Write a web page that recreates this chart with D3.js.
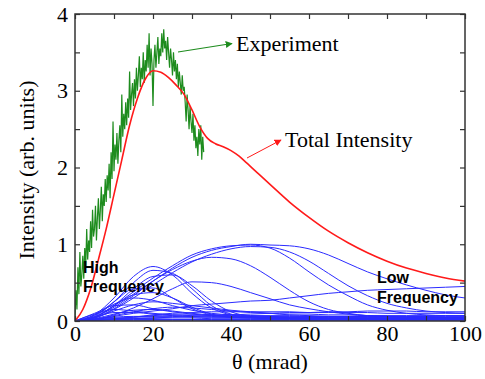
<!DOCTYPE html>
<html>
<head>
<meta charset="utf-8">
<script src="https://cdn.jsdelivr.net/npm/d3@7"></script>
<style>
  body { margin: 0; background: #fff; }
  svg text { font-family: "Liberation Serif", "DejaVu Serif", "Times New Roman", serif; }
  svg text.note { font-family: "Liberation Sans", Arial, sans-serif; font-weight: bold; font-size: 16px; }
</style>
</head>
<body>
<svg id="chart" width="485" height="379"></svg>
<script>
// theta grid (mrad) for the calculated curves
var theta = [0, 5, 10, 15, 20, 25, 30, 35, 40, 45, 50, 55, 60, 65, 70, 75, 80, 85, 90, 95, 100]

// total intensity (red), sampled on its own grid
var totalTheta = [0, 2, 4, 6, 8, 10, 12, 14, 16, 18, 20, 22, 24, 26, 28, 30, 32, 34, 36, 38, 40, 42, 44, 47, 50, 55, 60, 65, 70, 75, 80, 85, 90, 95, 100]
var totalIntensity = [0, 0.15, 0.42, 0.8, 1.2, 1.65, 2.1, 2.55, 2.9, 3.15, 3.26, 3.24, 3.17, 3.07, 2.95, 2.75, 2.53, 2.38, 2.31, 2.27, 2.22, 2.15, 2.06, 1.92, 1.78, 1.55, 1.35, 1.17, 1.02, 0.89, 0.78, 0.69, 0.62, 0.56, 0.52]

// experiment (green), one value every 0.25 mrad from 0 to 33
var experiment = [
  0.05, 0.4, 0.15, 0.7, 0.35, 0.9, 0.45, 0.6,
  0.85, 0.55, 0.95, 0.7, 1.2, 0.8, 1.05, 0.9,
  1.3, 0.95, 1.45, 1.1, 1.2, 1.5, 1.05, 1.35,
  1.6, 1.2, 1.45, 1.75, 1.3, 1.65, 1.5, 1.85,
  1.55, 1.9, 1.7, 2.05, 1.6, 2.2, 1.85, 2.6,
  1.95, 2.3, 2.1, 2.45, 2.05, 2.35, 2.55, 2.2,
  2.95, 2.4, 2.7, 2.5, 2.85, 2.55, 2.9, 2.65,
  3.25, 2.75, 2.95, 3.1, 2.8, 3.15, 2.9, 3.3,
  3.0, 3.2, 3.45, 3.05, 3.3, 3.15, 3.5, 3.1,
  3.4, 3.25, 3.6, 3.3, 3.75, 3.2, 3.55, 3.35,
  2.8, 3.4, 3.6, 3.3, 3.5, 3.7, 3.35, 3.55,
  3.45, 3.75, 3.5, 3.8, 3.55, 3.65, 3.4, 3.7,
  3.5, 3.3, 3.55, 3.4, 3.2, 3.5, 3.25, 3.4,
  3.15, 3.35, 3.05, 3.25, 3.1, 2.95, 3.2, 3.0,
  3.05, 2.85, 2.6, 2.95, 2.75, 2.5, 2.8, 2.6,
  2.45, 2.7, 2.35, 2.55, 2.25, 2.4, 2.15, 2.5,
  2.3, 2.55, 2.1, 2.4, 2.2
]
var expTheta = experiment.map(function(d, i) { return i * 0.25 })

// individual frequency components (blue), on the theta grid
var components = [
  [0, 0.05, 0.18, 0.35, 0.52, 0.69, 0.83, 0.92, 0.97, 1.0, 0.99, 0.98, 0.94, 0.86, 0.75, 0.64, 0.55, 0.47, 0.40, 0.34, 0.30],
  [0, 0.05, 0.2, 0.38, 0.56, 0.72, 0.86, 0.94, 0.98, 0.99, 0.95, 0.82, 0.64, 0.47, 0.33, 0.21, 0.14, 0.1, 0.08, 0.07, 0.07],
  [0, 0.04, 0.15, 0.3, 0.47, 0.63, 0.77, 0.87, 0.94, 0.97, 0.96, 0.9, 0.78, 0.62, 0.46, 0.33, 0.23, 0.17, 0.13, 0.11, 0.1],
  [0, 0.04, 0.16, 0.33, 0.52, 0.67, 0.78, 0.83, 0.81, 0.72, 0.57, 0.4, 0.25, 0.15, 0.1, 0.07, 0.06, 0.05, 0.05, 0.05, 0.05],
  [0, 0.02, 0.08, 0.17, 0.29, 0.42, 0.51, 0.5, 0.45, 0.37, 0.29, 0.21, 0.16, 0.12, 0.09, 0.07, 0.06, 0.05, 0.05, 0.04, 0.04],
  [0, 0.02, 0.06, 0.1, 0.13, 0.16, 0.2, 0.22, 0.24, 0.26, 0.27, 0.3, 0.33, 0.36, 0.38, 0.4, 0.41, 0.42, 0.43, 0.44, 0.45],
  [0, 0.01, 0.02, 0.03, 0.04, 0.05, 0.06, 0.07, 0.08, 0.09, 0.1, 0.11, 0.11, 0.12, 0.12, 0.13, 0.13, 0.13, 0.12, 0.12, 0.12],
  [0, 0.01, 0.03, 0.05, 0.08, 0.1, 0.11, 0.12, 0.12, 0.12, 0.12, 0.12, 0.11, 0.11, 0.11, 0.11, 0.1, 0.1, 0.1, 0.1, 0.1],
  [0, 0.08, 0.3, 0.58, 0.71, 0.6, 0.36, 0.17, 0.08, 0.05, 0.04, 0.04, 0.03, 0.03, 0.03, 0.03, 0.03, 0.03, 0.03, 0.03, 0.03],
  [0, 0.06, 0.25, 0.5, 0.66, 0.62, 0.42, 0.2, 0.09, 0.05, 0.04, 0.03, 0.03, 0.03, 0.03, 0.03, 0.02, 0.02, 0.02, 0.02, 0.02],
  [0, 0.05, 0.2, 0.42, 0.58, 0.6, 0.46, 0.26, 0.12, 0.06, 0.04, 0.03, 0.03, 0.02, 0.02, 0.02, 0.02, 0.02, 0.02, 0.02, 0.02],
  [0, 0.07, 0.25, 0.42, 0.43, 0.3, 0.16, 0.08, 0.05, 0.04, 0.03, 0.03, 0.03, 0.03, 0.03, 0.03, 0.03, 0.03, 0.03, 0.03, 0.03],
  [0, 0.05, 0.2, 0.34, 0.37, 0.3, 0.18, 0.09, 0.05, 0.04, 0.03, 0.03, 0.03, 0.03, 0.03, 0.02, 0.02, 0.02, 0.02, 0.02, 0.02],
  [0, 0.08, 0.22, 0.3, 0.27, 0.2, 0.14, 0.1, 0.08, 0.07, 0.06, 0.05, 0.05, 0.04, 0.04, 0.04, 0.04, 0.04, 0.04, 0.04, 0.04],
  [0, 0.04, 0.13, 0.21, 0.25, 0.23, 0.2, 0.17, 0.14, 0.12, 0.1, 0.08, 0.07, 0.06, 0.05, 0.05, 0.04, 0.04, 0.04, 0.04, 0.04],
  [0, 0.1, 0.2, 0.21, 0.16, 0.12, 0.09, 0.07, 0.06, 0.05, 0.05, 0.04, 0.04, 0.04, 0.04, 0.04, 0.03, 0.03, 0.03, 0.03, 0.03],
  [0, 0.02, 0.07, 0.12, 0.16, 0.18, 0.17, 0.15, 0.13, 0.11, 0.1, 0.09, 0.09, 0.08, 0.08, 0.07, 0.07, 0.07, 0.07, 0.07, 0.07],
  [0, 0.09, 0.15, 0.13, 0.1, 0.08, 0.07, 0.06, 0.05, 0.05, 0.04, 0.04, 0.04, 0.04, 0.03, 0.03, 0.03, 0.03, 0.03, 0.03, 0.03],
  [0, 0.03, 0.09, 0.14, 0.15, 0.13, 0.1, 0.08, 0.07, 0.06, 0.06, 0.06, 0.06, 0.06, 0.06, 0.06, 0.06, 0.06, 0.06, 0.06, 0.06],
  [0, 0.05, 0.11, 0.11, 0.09, 0.07, 0.06, 0.05, 0.05, 0.05, 0.04, 0.04, 0.04, 0.04, 0.04, 0.04, 0.04, 0.04, 0.04, 0.04, 0.04],
  [0, 0.02, 0.05, 0.06, 0.06, 0.06, 0.05, 0.05, 0.05, 0.05, 0.05, 0.05, 0.05, 0.05, 0.05, 0.05, 0.05, 0.04, 0.04, 0.04, 0.04],
  [0, 0.03, 0.04, 0.04, 0.04, 0.04, 0.04, 0.03, 0.03, 0.03, 0.03, 0.03, 0.03, 0.03, 0.03, 0.03, 0.03, 0.03, 0.03, 0.03, 0.03],
  [0, 0.01, 0.03, 0.05, 0.07, 0.08, 0.08, 0.08, 0.08, 0.07, 0.07, 0.07, 0.06, 0.06, 0.06, 0.06, 0.06, 0.06, 0.06, 0.05, 0.05],
  [0, 0.02, 0.03, 0.03, 0.03, 0.02, 0.02, 0.02, 0.02, 0.02, 0.02, 0.02, 0.02, 0.02, 0.02, 0.02, 0.02, 0.02, 0.02, 0.02, 0.02],
  [0, 0.01, 0.02, 0.02, 0.02, 0.02, 0.02, 0.01, 0.01, 0.01, 0.01, 0.01, 0.01, 0.01, 0.01, 0.01, 0.01, 0.01, 0.01, 0.01, 0.01],
  [0, 0.01, 0.01, 0.01, 0.01, 0.01, 0.01, 0.01, 0.01, 0.01, 0.01, 0.01, 0.01, 0.01, 0.01, 0.01, 0.01, 0.01, 0.01, 0.01, 0.01]
]

var xTicks = [0, 10, 20, 30, 40, 50, 60, 70, 80, 90, 100]
var yTicks = [0, 0.5, 1, 1.5, 2, 2.5, 3, 3.5, 4]

var serif = "'Liberation Serif', 'DejaVu Serif', 'Times New Roman', serif"

var margin = {left: 75, top: 14}
var w = 390, h = 307

var svg = d3.select("#chart")
var g = svg.append("g")
    .attr("transform", "translate(" + margin.left + "," + margin.top + ")")

var x = d3.scaleLinear().domain([0, 100]).range([0, w])
var y = d3.scaleLinear().domain([0, 4]).range([h, 0])

var defs = svg.append("defs")
defs.append("clipPath")
    .attr("id", "plot")
    .append("rect")
        .attr("width", w)
        .attr("height", h)

var plot = g.append("g").attr("clip-path", "url(#plot)")

var line = d3.line()
    .x(function(d) { return x(d[0]) })
    .y(function(d) { return y(d[1]) })

// blue components
plot.selectAll(".comp")
    .data(components)
    .enter()
    .append("path")
        .attr("class", "comp")
        .attr("fill", "none")
        .attr("stroke", "#2b2bff")
        .attr("stroke-width", 1)
        .attr("d", function(c) {
            return line.curve(d3.curveMonotoneX)(c.map(function(v, i) { return [theta[i], v] }))
        })

// experiment
plot.append("path")
    .attr("fill", "none")
    .attr("stroke", "#1e8c1e")
    .attr("stroke-width", 1.2)
    .attr("d", line.curve(d3.curveLinear)(experiment.map(function(v, i) { return [expTheta[i], v] })))

// total intensity
plot.append("path")
    .attr("fill", "none")
    .attr("stroke", "#ff1a1a")
    .attr("stroke-width", 1.6)
    .attr("d", line.curve(d3.curveMonotoneX)(totalIntensity.map(function(v, i) { return [totalTheta[i], v] })))

// axes with inward ticks
function styleAxis(sel) {
    sel.attr("font-family", serif).attr("font-size", 22)
    sel.select(".domain").remove()
    sel.selectAll(".tick line").attr("stroke", "#333").attr("stroke-width", 1.2)
    sel.selectAll("text").attr("fill", "#000")
}

g.append("g")
    .attr("transform", "translate(0," + h + ")")
    .call(d3.axisBottom(x).tickValues(xTicks).tickSize(-5).tickPadding(4)
        .tickFormat(function(d) { return d % 20 === 0 ? d : "" }))
    .call(styleAxis)

g.append("g")
    .call(d3.axisTop(x).tickValues(xTicks).tickSize(-5).tickFormat(""))
    .call(styleAxis)

g.append("g")
    .call(d3.axisLeft(y).tickValues(yTicks).tickSize(-5).tickPadding(7)
        .tickFormat(function(d) { return d % 1 === 0 ? d : "" }))
    .call(styleAxis)

g.append("g")
    .attr("transform", "translate(" + w + ",0)")
    .call(d3.axisRight(y).tickValues(yTicks).tickSize(-5).tickFormat(""))
    .call(styleAxis)

g.append("rect")
    .attr("width", w)
    .attr("height", h)
    .attr("fill", "none")
    .attr("stroke", "#333")
    .attr("stroke-width", 1.5)

// axis titles
svg.append("text")
    .attr("x", 270)
    .attr("y", 369)
    .attr("text-anchor", "middle")
    .attr("font-family", serif)
    .attr("font-size", 22)
    .text("θ (mrad)")

svg.append("text")
    .attr("transform", "translate(34,170) rotate(-90)")
    .attr("text-anchor", "middle")
    .attr("font-family", serif)
    .attr("font-size", 22)
    .text("Intensity (arb. units)")

// annotations
function marker(id, color) {
    defs.append("marker")
        .attr("id", id)
        .attr("viewBox", "0 0 10 10")
        .attr("refX", 9)
        .attr("refY", 5)
        .attr("markerWidth", 7)
        .attr("markerHeight", 7)
        .attr("markerUnits", "userSpaceOnUse")
        .attr("orient", "auto")
        .append("path")
            .attr("d", "M0,0L10,5L0,10z")
            .attr("fill", color)
}
marker("arrG", "#1e8c1e")
marker("arrR", "#ff1a1a")

svg.append("line")
    .attr("x1", 178).attr("y1", 52).attr("x2", 232).attr("y2", 43.5)
    .attr("stroke", "#1e8c1e").attr("stroke-width", 1.2)
    .attr("marker-end", "url(#arrG)")

svg.append("line")
    .attr("x1", 247).attr("y1", 158).attr("x2", 281).attr("y2", 140)
    .attr("stroke", "#ff1a1a").attr("stroke-width", 1)
    .attr("marker-end", "url(#arrR)")

svg.append("text")
    .attr("x", 236).attr("y", 51)
    .attr("font-family", serif)
    .attr("font-size", 22)
    .text("Experiment")

svg.append("text")
    .attr("x", 285).attr("y", 147)
    .attr("font-family", serif)
    .attr("font-size", 22)
    .text("Total Intensity")

svg.append("text").attr("class", "note").attr("x", 83).attr("y", 273).text("High")
svg.append("text").attr("class", "note").attr("x", 83).attr("y", 292).text("Frequency")
svg.append("text").attr("class", "note").attr("x", 377).attr("y", 283).text("Low")
svg.append("text").attr("class", "note").attr("x", 377).attr("y", 303).text("Frequency")
</script>
</body>
</html>
